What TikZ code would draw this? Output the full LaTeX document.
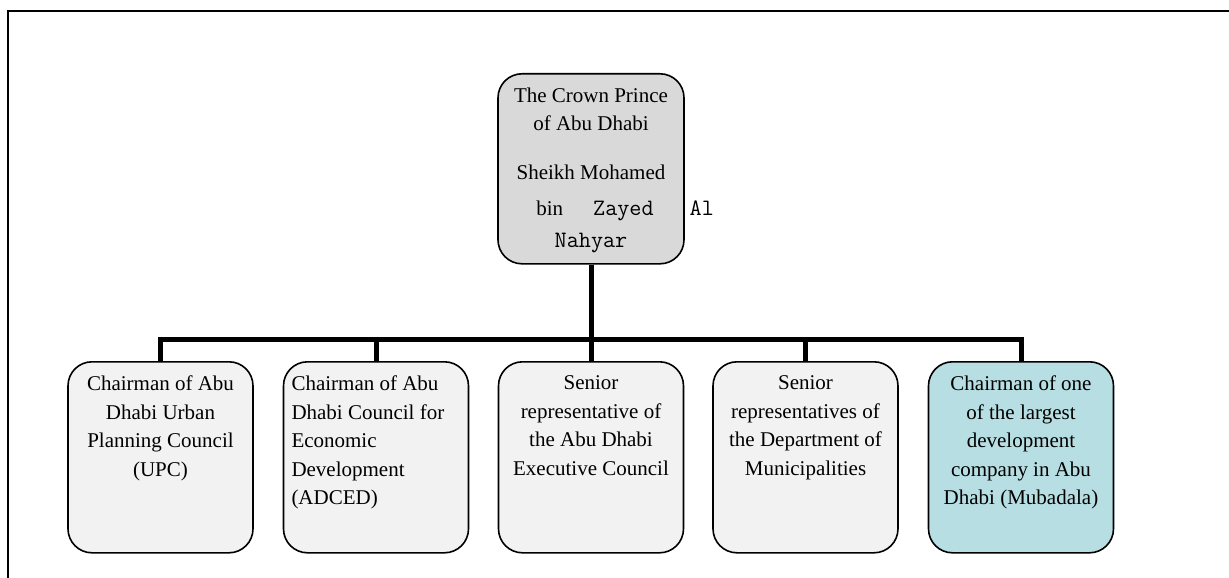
\documentclass[tikz,border=0pt]{standalone}
\usepackage{fontspec}
\setmainfont{Liberation Serif}
\definecolor{topfill}{HTML}{D9D9D9}
\definecolor{boxfill}{HTML}{F2F2F2}
\definecolor{tealfill}{HTML}{B7DEE3}
\newcommand{\ctext}[1]{\parbox[t][163pt][t]{169pt}{\centering #1}}
\newcommand{\ltext}[1]{\parbox[t][163pt][t]{169pt}{\raggedright #1}}
\newcommand{\cour}[1]{{\ttfamily\fontsize{23.5}{28.5}\selectfont #1}}
\tikzset{
  orgbox/.style={draw=black, line width=1.6pt, rounded corners=24pt, fill=boxfill,
    inner xsep=8pt, inner ysep=14pt, anchor=north,
    font=\fontsize{21}{28.5}\selectfont},
  conn/.style={draw=black, line width=5pt, line join=miter},
  frame/.style={draw=black, line width=2pt}
}
\begin{document}
\begin{tikzpicture}[x=1pt,y=-1pt]
\useasboundingbox (0,0) rectangle (1229,578);
\draw[frame] (8,578) -- (8,11) -- (1229,11);

\node[orgbox, fill=topfill, inner xsep=8pt] (top) at (591,73)
  {\parbox[t][162pt][t]{170pt}{\centering The Crown Prince\\
   of Abu Dhabi\\[20pt]
   Sheikh Mohamed\\[8pt]
   \hspace*{8pt}bin\hspace{30pt}\cour{Zayed}\rlap{\hspace{36pt}\cour{Al}}\\[3pt]
   \cour{Nahyar}}};

\node[orgbox] (c1) at (160.5,361)
  {\ctext{Chairman of Abu\\ Dhabi Urban\\ Planning Council\\ (UPC)}};
\node[orgbox] (c2) at (376,361)
  {\ltext{Chairman of Abu\\ Dhabi Council for\\ Economic\\ Development\\ (ADCED)}};
\node[orgbox] (c3) at (591,361)
  {\ctext{Senior\\ representative of\\ the Abu Dhabi\\ Executive Council}};
\node[orgbox] (c4) at (805.5,361)
  {\ctext{Senior\\ representatives of\\ the Department of\\ Municipalities}};
\node[orgbox, fill=tealfill] (c5) at (1021,361)
  {\ctext{Chairman of one\\ of the largest\\ development\\ company in Abu\\ Dhabi (Mubadala)}};

\coordinate (busy) at (0,339);
\foreach \c in {c1,c2,c3,c4,c5}
  \draw[conn] (top.south) -- (top.south |- busy) -| (\c.north);
\end{tikzpicture}
\end{document}
